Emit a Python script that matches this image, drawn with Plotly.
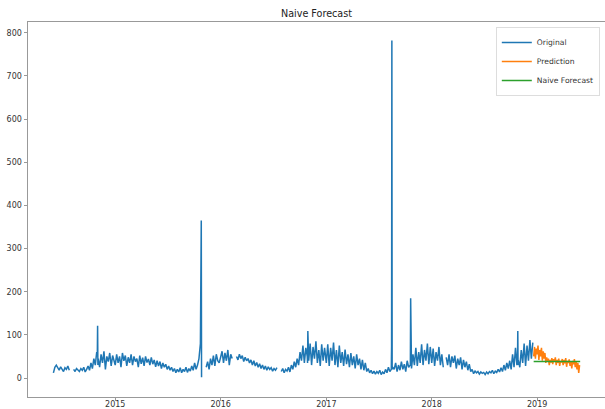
import pandas as pd
import plotly.graph_objects as go

# ---- data ----
# Original series, 5-day spacing, one list per year (None = gap in the data)
orig_2014_start = "2014-06-01"
orig_2014 = [12, 25, 30, 22, 18, 26, 20, 15, 24, 20, 28, 18, None, None, 20,
             15, 22, 18, 15, 22, 18, 25, 14, 20, 28, 18, 35, 22, 45, 30,
             60, 45, 25, 55, 35, 62, 20, 50, 38, 58, 28, 52, 35]

orig_2015_start = "2015-01-01"
orig_2015 = [30, 55, 35, 50, 25, 58, 40, 52, 28, 48, 35, 55, 30, 50, 38,
             45, 25, 52, 33, 47, 28, 50, 36, 44, 30, 48, 32, 42, 26, 40,
             28, 38, 22, 35, 25, 32, 20, 28, 18, 25, 15, 22, 12, 20, 14,
             24, 12, 20, 15, 25, 13, 22, 16, 28, 18, 35, 20, 30, 45, 80,
             None, None, None, 25, 38, 20, 45, 30, 52, 28, 55, 40, 35]

orig_2016_start = "2016-01-01"
orig_2016 = [48, 62, 35, 58, 40, 65, 30, 55, 45, None, None, 50, 42, 55, 45,
             52, 38, 48, 40, 45, 35, 42, 30, 40, 28, 36, 25, 33, 22, 30,
             20, 28, 18, 26, 20, 24, 16, 22, 18, 24, None, None, 15, 22, 12,
             20, 16, 25, 14, 30, 20, 38, 25, 45, 30, 60, 40, 75, 35, 70,
             50, 40, 80, 30, 72, 45, 85, 35, 65, 28, 78, 40, 70]

orig_2017_start = "2017-01-01"
orig_2017 = [35, 78, 28, 70, 40, 82, 30, 65, 25, 75, 35, 60, 28, 66, 32,
             55, 25, 58, 30, 50, 22, 55, 30, 45, 20, 42, 18, 35, 15, 22,
             12, 18, 10, 16, 9, 15, 11, 18, 8, 14, 10, 20, 12, 25, 15,
             20, 25, 20, 35, 15, 30, 18, 38, 20, 32, 15, 40, 25, 30, 22,
             55, 30, 70, 28, 60, 35, 78, 30, 65, 40, 80, 32, 72]

orig_2018_start = "2018-01-01"
orig_2018 = [35, 68, 28, 60, 40, 72, 30, 55, 25, None, 48, 30, 55, 25, 50,
             35, 52, 22, 45, 30, 48, 20, 42, 25, 38, 18, 32, 15, 20, 10,
             16, 12, 15, 9, 14, 11, 13, 8, 14, 10, 15, 12, 18, 10, 16,
             13, 20, 14, 24, 15, 30, 18, 35, 22, 40, 20, 55, 25, 70, 30,
             40, 25, 65, 35, 80, 28, 75, 40, 88, 45, 82]

# Sharp one-day spikes of the original series (daily values around each peak)
spike_dates = ["2014-10-31", "2014-11-01", "2014-11-02",
               "2015-10-25", "2015-10-26", "2015-10-27",
               "2016-10-28", "2016-10-29", "2016-10-30",
               "2017-08-15", "2017-08-16", "2017-08-17",
               "2017-10-19", "2017-10-20", "2017-10-21",
               "2018-10-25", "2018-10-26", "2018-10-27"]
spike_values = [50, 121, 30,
                225, 365, 2,
                35, 109, 40,
                74, 782, 20,
                30, 185, 25,
                40, 109, 30]

# Prediction, 3-day spacing
pred_start = "2018-12-20"
prediction = [50, 72, 45, 68, 55, 75, 42, 65, 50, 70, 40, 62, 45, 58, 35,
              48, 38, 45, 30, 42, 36, 46, 32, 44, 38, 48, 30, 42, 35, 45,
              28, 40, 36, 44, 30, 42, 34, 46, 26, 40, 35, 43, 28, 38, 22,
              40, 32, 44, 25, 38, 20, 35, 12, 30]

# Naive forecast, weekly spacing
naive_start = "2018-12-20"
naive = [38, 38, 38, 38, 38, 38, 38, 38, 38, 38, 38, 38,
         38, 38, 38, 38, 38, 38, 38, 38, 38, 38, 38, 38]

year_ticks = ["2015-01-01", "2016-01-01", "2017-01-01", "2018-01-01", "2019-01-01"]
year_labels = ["2015", "2016", "2017", "2018", "2019"]
y_ticks = [0, 100, 200, 300, 400, 500, 600, 700, 800]

# ---- build series ----
parts = []
for start, vals in [(orig_2014_start, orig_2014), (orig_2015_start, orig_2015),
                    (orig_2016_start, orig_2016), (orig_2017_start, orig_2017),
                    (orig_2018_start, orig_2018)]:
    d = pd.date_range(start, periods=len(vals), freq="5D")
    parts.append(pd.Series(vals, index=d, dtype="float"))
parts.append(pd.Series(spike_values, index=pd.to_datetime(spike_dates), dtype="float"))
orig = pd.concat(parts).sort_index()
orig_x = list(orig.index)
orig_y = [None if pd.isna(v) else v for v in orig.values]

pred_x = pd.date_range(pred_start, periods=len(prediction), freq="3D")
naive_x = pd.date_range(naive_start, periods=len(naive), freq="7D")

FONT = "DejaVu Sans"
fig = go.Figure()
fig.add_trace(go.Scatter(x=orig_x, y=orig_y, mode="lines", name="Original",
                         line=dict(color="#1f77b4", width=1.5), connectgaps=False))
fig.add_trace(go.Scatter(x=pred_x, y=prediction, mode="lines", name="Prediction",
                         line=dict(color="#ff7f0e", width=1.5)))
fig.add_trace(go.Scatter(x=naive_x, y=naive, mode="lines", name="Naive Forecast",
                         line=dict(color="#2ca02c", width=1.5)))

fig.update_layout(
    width=605, height=409,
    margin=dict(l=28, r=0, t=22, b=12, autoexpand=False),
    paper_bgcolor="white", plot_bgcolor="white",
    font=dict(family=FONT, size=8, color="#333333"),
    title=dict(text="Naive Forecast", x=0.5, xref="paper", y=1 - 14 / 409,
               yref="container", yanchor="middle", xanchor="center",
               font=dict(family=FONT, size=9.6, color="#222222")),
    showlegend=True,
    legend=dict(x=0.991, y=0.987, xanchor="right", yanchor="top",
                bgcolor="rgba(255,255,255,0.8)", bordercolor="#dddddd", borderwidth=1,
                font=dict(family=FONT, size=7.6, color="#333333"),
                tracegroupgap=0, itemwidth=30),
)
fig.update_xaxes(type="date", range=["2014-03-05", "2019-08-24"],
                 tickvals=year_ticks, ticktext=year_labels, automargin=False,
                 showgrid=False, zeroline=False, ticklabelstandoff=-3,
                 showline=True, linecolor="#999999", linewidth=1, mirror=True,
                 ticks="outside", ticklen=2.5, tickcolor="#999999", tickwidth=1)
fig.update_yaxes(range=[-44, 825], tickvals=y_ticks, automargin=False,
                 showgrid=False, zeroline=False,
                 showline=True, linecolor="#999999", linewidth=1, mirror=False,
                 ticks="outside", ticklen=3.5, tickcolor="#999999", tickwidth=1)

fig.write_html("out.html", config={"displayModeBar": False},
               post_script="document.body.style.margin='0';")
